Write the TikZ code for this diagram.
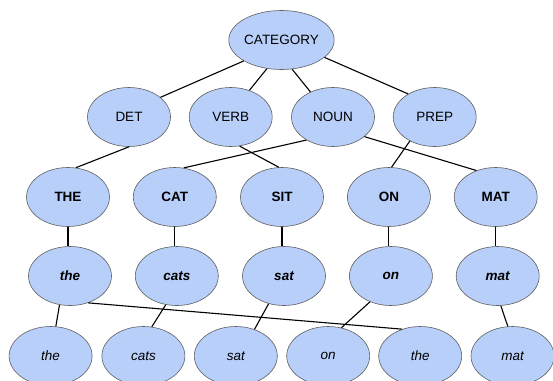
\documentclass[tikz,border=0pt]{standalone}
\usepackage{fontspec}
\setmainfont{Liberation Sans}
\usetikzlibrary{shapes.geometric}
\definecolor{ovalfill}{RGB}{184,207,250}
\definecolor{ovalline}{RGB}{95,95,95}

\begin{document}
\begin{tikzpicture}[x=1pt, y=-1pt,
  oval/.style={ellipse, draw=ovalline, line width=0.6pt, fill=ovalfill,
    minimum width=83pt, minimum height=59pt, inner sep=0pt,
    font=\fontsize{13.5}{16}\selectfont},
  lexbox/.style={oval, font=\fontsize{13.5}{16}\selectfont\bfseries},
  formbox/.style={oval, font=\fontsize{13.5}{16}\selectfont\bfseries\itshape},
  tokbox/.style={oval, font=\fontsize{13.5}{16}\selectfont\itshape},
  link/.style={line width=1.1pt, black}]
  \useasboundingbox (0,0) rectangle (553,380);
  % 根结点
  \node[oval] (root) at (281.5,40) {CATEGORY};
  % 词类
  \foreach \i/\x/\t in {1/129/DET, 2/230.7/VERB, 3/333/NOUN, 4/434.7/PREP}
  {
    \node[oval] (P\i) at (\x,117) {\t};
  }
  % 词元与词形，上下对齐
  \foreach \i/\x/\t/\w in {1/68/THE/the, 2/174.8/CAT/cats, 3/282/SIT/sat, 4/388.9/ON/on, 5/495.7/MAT/mat}
  {
    \node[lexbox] (LX\i) at (\x,197) {\t};
    \node[formbox] (WF\i) at (\x+2,276) {\w};
    \draw[link] (LX\i.south) -- (LX\i.south |- WF\i.north);
  }
  % 句中的词
  \foreach \i/\x/\t in {1/50.6/the, 2/143.4/cats, 3/235.8/sat, 4/328.2/on, 5/420.2/the, 6/512.5/mat}
  {
    \node[tokbox] (TK\i) at (\x,356) {\t};
  }
  % 上层连线
  \foreach \a/\b in {root.209/P1.32, root.243/P2.55, root.290/P3.132, root.338/P4.139,
    P1.270/LX1.75, P2.287/LX3.96, P3.221/LX2.73, P3.328/LX5.126, P4.224/LX4.85}
  {
    \draw[link] (\a) -- (\b);
  }
  % 下层连线
  \foreach \a/\b in {WF1.250/TK1.80, WF1.304/TK5.124, WF2.249/TK2.74,
    WF3.241/TK3.55, WF4.231/TK4.65, WF5.276/TK6.99}
  {
    \draw[link] (\a) -- (\b);
  }
\end{tikzpicture}
\end{document}
